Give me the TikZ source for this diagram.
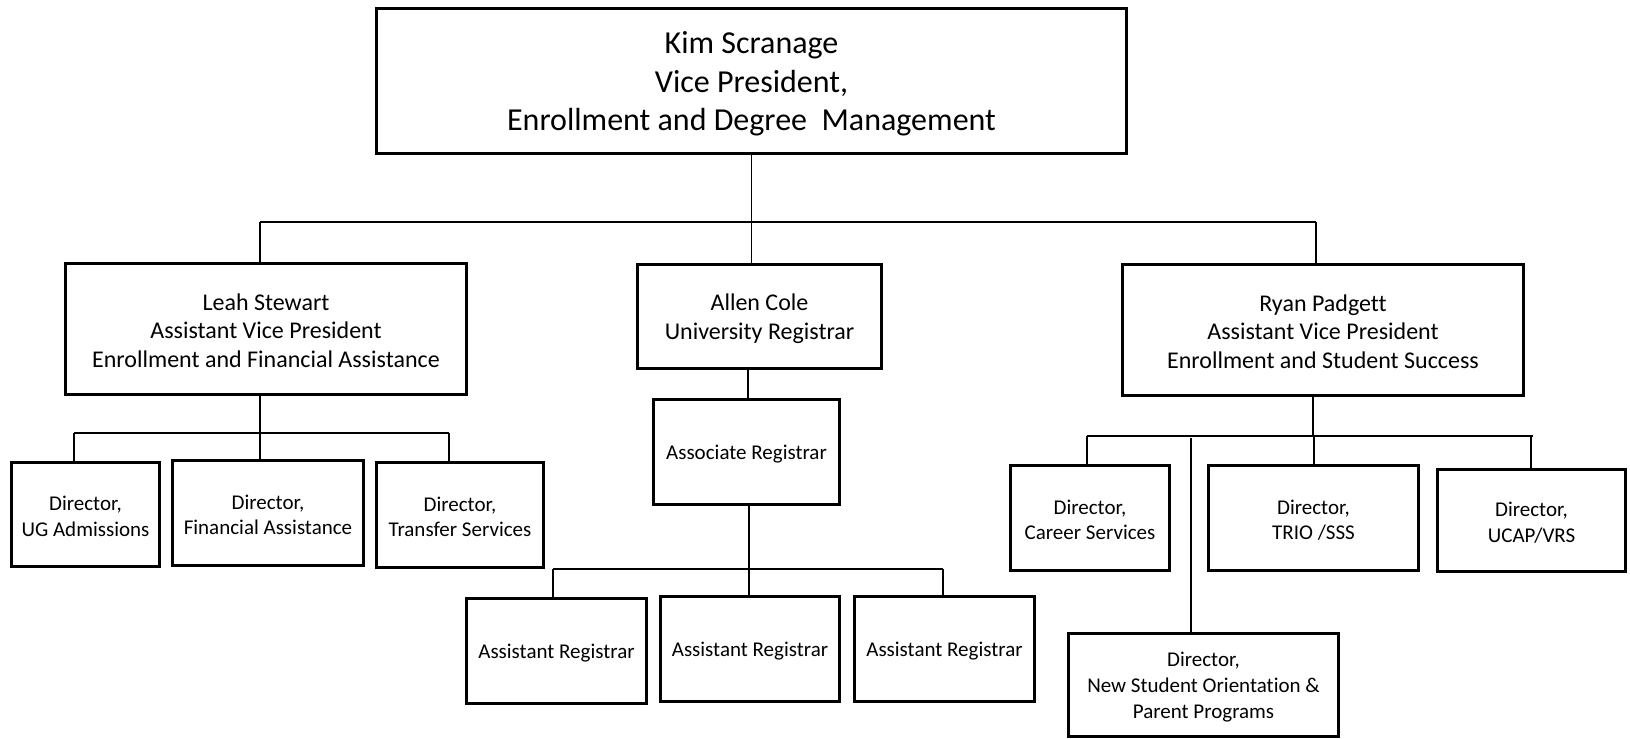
\documentclass[tikz,border=0pt]{standalone}
\usepackage{fontspec}
\setmainfont{Carlito}[Ligatures={TeX,NoCommon}]
% invisible rule that lowers a node's text block a little
\newcommand\padtop[1]{\rule{0pt}{\dimexpr\fontcharht\font`l+#1\relax}}
\begin{document}
\begin{tikzpicture}[x=0.5pt,y=-0.5pt,
  box/.style={draw,line width=1.5pt,align=center,inner sep=0pt},
  bigtxt/.style={font=\fontsize{16}{19.25}\selectfont},
  midtxt/.style={font=\fontsize{12}{14.25}\selectfont},
  smalltxt/.style={font=\fontsize{10.5}{12.75}\selectfont},
  link/.style={line width=0.8pt},
  thinlink/.style={line width=0.6pt}]
\useasboundingbox (0,0) rectangle (1630,739);

% top level
\node[box,bigtxt,line width=1.6pt,minimum width=375pt,minimum height=72.5pt] (vp) at (751.5,81)
  {\padtop{3pt}Kim Scranage\\Vice President,\\Enrollment and Degree\ \ Management};

% second level
\node[box,midtxt,minimum width=200.5pt,minimum height=65.5pt] (leah) at (266,329)
  {\padtop{1.5pt}Leah Stewart\\Assistant Vice President\\Enrollment and Financial Assistance};
\node[box,midtxt,minimum width=122pt,minimum height=52pt] (allen) at (759.5,316.5)
  {\padtop{2pt}Allen Cole\\University Registrar};
\node[box,midtxt,minimum width=200.5pt,minimum height=65.5pt] (ryan) at (1323,330)
  {\padtop{1.5pt}Ryan Padgett\\Assistant Vice President\\Enrollment and Student Success};

% reports of Leah Stewart
\node[box,smalltxt,minimum width=74pt,minimum height=52pt] (ug) at (85.5,514.5)
  {\padtop{2pt}Director,\\UG Admissions};
\node[box,smalltxt,minimum width=95.5pt,minimum height=52.5pt] (fin) at (268,513)
  {\padtop{2pt}Director,\\Financial Assistance};
\node[box,smalltxt,minimum width=83.5pt,minimum height=52.5pt] (trans) at (460,515)
  {\padtop{2pt}Director,\\Transfer Services};

% registrar's office
\node[box,smalltxt,minimum width=93pt,minimum height=52.5pt] (assoc) at (746.5,452)
  {\padtop{2pt}Associate Registrar};
\node[box,smalltxt,minimum width=90pt,minimum height=52.5pt] (ar1) at (556.5,651)
  {\padtop{2.5pt}Assistant Registrar};
\node[box,smalltxt,minimum width=89.5pt,minimum height=52.5pt] (ar2) at (750,649)
  {\padtop{2.5pt}Assistant Registrar};
\node[box,smalltxt,minimum width=90pt,minimum height=52.5pt] (ar3) at (944.5,649)
  {\padtop{2.5pt}Assistant Registrar};

% reports of Ryan Padgett
\node[box,smalltxt,minimum width=79.5pt,minimum height=52.5pt] (career) at (1090,518)
  {\padtop{2pt}Director,\\Career Services};
\node[box,smalltxt,minimum width=105pt,minimum height=52.5pt] (trio) at (1313.5,518)
  {\padtop{2pt}Director,\\TRIO /SSS};
\node[box,smalltxt,minimum width=94pt,minimum height=51pt] (ucap) at (1531.5,520.5)
  {\padtop{2pt}Director,\\UCAP/VRS};
\node[box,font=\fontsize{10.5}{13}\selectfont,minimum width=135pt,minimum height=51.5pt] (nso) at (1203.5,685)
  {\padtop{2pt}Director,\\New Student Orientation \&\\Parent Programs};

% bus under the vice president
\coordinate (busL) at (260,222);
\coordinate (busR) at (1316,222);
\draw[link] (busL) -- (busR);
\draw[link] (vp.south) -- (vp.south |- allen.north);
\draw[link] (busL) -- (busL |- leah.north);
\draw[link] (busR) -- (busR |- ryan.north);

% bus under Leah Stewart
\coordinate (lbus) at (260,433);
\coordinate (lbusL) at (74,433);
\coordinate (lbusR) at (449,433);
\draw[link] (lbus |- leah.south) -- (lbus);
\draw[thinlink] (lbusL) -- (lbusR);
\draw[thinlink] (lbusL) -- (lbusL |- ug.north);
\draw[thinlink] (lbus) -- (lbus |- fin.north);
\draw[thinlink] (lbusR) -- (lbusR |- trans.north);

% registrar chain
\coordinate (atrunk) at (748,0);
\draw[link] (atrunk |- allen.south) -- (atrunk |- assoc.north);
\coordinate (abus) at (749,569);
\coordinate (abusL) at (553,569);
\coordinate (abusR) at (943,569);
\draw[link] (abus |- assoc.south) -- (abus |- ar2.north);
\draw[thinlink] (abusL) -- (abusR);
\draw[thinlink] (abusL) -- (abusL |- ar1.north);
\draw[thinlink] (abusR) -- (abusR |- ar3.north);

% bus under Ryan Padgett
\coordinate (rbus) at (1313,436);
\coordinate (rbusL) at (1087,436);
\coordinate (rbusR) at (1533,436);
\coordinate (rdropT) at (1314,436);
\coordinate (rdropU) at (1531,436);
\coordinate (rdropN) at (1191,438);
\draw[link] (rbus |- ryan.south) -- (rbus);
\draw[thinlink] (rbusL) -- (rbusR);
\draw[thinlink] (rbusL) -- (rbusL |- career.north);
\draw[thinlink] (rdropT) -- (rdropT |- trio.north);
\draw[thinlink] (rdropU) -- (rdropU |- ucap.north);
\draw[thinlink] (rdropN) -- (rdropN |- nso.north);
\end{tikzpicture}
\end{document}
